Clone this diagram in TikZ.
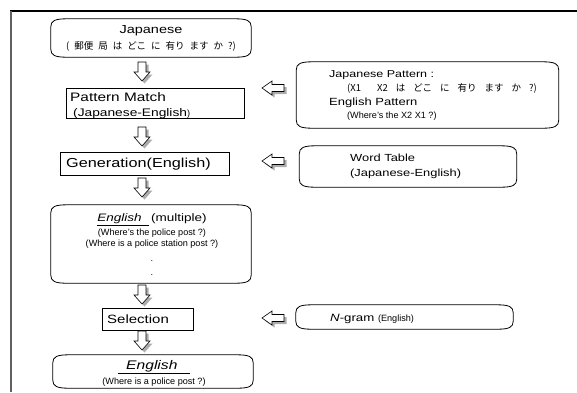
\documentclass[tikz,border=0pt]{standalone}
\usepackage{fontspec}
\setmainfont{Liberation Sans}
\newfontfamily\wideA{Liberation Sans}[FakeStretch=1.25]
\newfontfamily\jp{Noto Sans CJK JP}
\usetikzlibrary{calc}
\newcommand\fw[1]{\wideA\fontsize{#1}{#1}\selectfont}
\newcommand\fsm{\rmfamily\fontsize{9.1}{11}\selectfont}
\newcommand\fjp{\jp\fontsize{9.5}{11}\selectfont}
\newcommand\js{\hspace{5pt}}
\newcommand\jss{\hspace{8pt}}
\newcommand\cframe[1]{%
\draw[boxline]
 ($(#1.north west)+(0,8)$) .. controls ($(#1.north west)+(0,2)$) and ($(#1.north west)+(4,0)$) .. ($(#1.north west)+(16,0)$)
 -- ($(#1.north east)+(-16,0)$) .. controls ($(#1.north east)+(-4,0)$) and ($(#1.north east)+(0,2)$) .. ($(#1.north east)+(0,8)$)
 -- ($(#1.south east)+(0,-8)$) .. controls ($(#1.south east)+(0,-2)$) and ($(#1.south east)+(-4,0)$) .. ($(#1.south east)+(-16,0)$)
 -- ($(#1.south west)+(16,0)$) .. controls ($(#1.south west)+(4,0)$) and ($(#1.south west)+(0,-2)$) .. ($(#1.south west)+(0,-8)$) -- cycle;}
\tikzset{
 boxline/.style={line width=0.8pt, black},
 rbox/.style={draw=black, line width=0.8pt, inner sep=0pt},
 cbox/.style={inner sep=0pt},
 tl/.style={inner sep=0pt, anchor=base west},
 tc/.style={inner sep=0pt, anchor=base},
 downarr/.pic={
   \fill[gray!65] ([shift={(2.5,2.5)}]-4,-10) -- ++(8,0) -- ++(0,10) -- ++(4,0) -- ++(-8,9) -- ++(-8,-9) -- ++(4,0) -- cycle;
   \draw[line width=0.6pt, fill=white] (-4,-10) -- (4,-10) -- (4,0) -- (8,0) -- (0,9) -- (-8,0) -- (-4,0) -- cycle;
 },
 leftarr/.pic={
   \fill[gray!65] ([shift={(2.5,2.5)}]11,-3.5) -- ++(0,7) -- ++(-12,0) -- ++(0,3.5) -- ++(-10,-7) -- ++(10,-7) -- ++(0,3.5) -- cycle;
   \draw[line width=0.6pt, fill=white] (11,-3.5) -- (11,3.5) -- (-1,3.5) -- (-1,7) -- (-11,0) -- (-1,-7) -- (-1,-3.5) -- cycle;
 }
}
\begin{document}
\begin{tikzpicture}[x=1pt,y=-1pt]
\useasboundingbox (0,0) rectangle (577,392);
% frame
\draw[line width=1.2pt] (10,11) -- (577,11);
\draw[line width=1.4pt, gray!75!black] (11,11) -- (11,392);

% ---------- left column
\node[cbox, minimum width=200pt, minimum height=38pt] (j1) at (151,38) {};
\cframe{j1}
\node[tc, font={\fw{11.6}}] (j1a) at (151,33) {Japanese};
\node[tc, font=\fjp] (j1b) at (151,49.5) {(\js 郵便\js 局\js は\js どこ\js に\js 有り\js ます\js か\js ?)};

\node[rbox, minimum width=178pt, minimum height=30pt] (pm) at (155,103) {};
\node[tl, font={\fw{12.3}}] (pma) at (70,101.5) {Pattern Match};
\node[tl, font={\fw{11}}] (pmb) at (73,116) {(Japanese-English{\fsm )}};

\node[rbox, minimum width=169pt, minimum height=23pt] (gen) at (144.5,163.5) {};
\node[tl, font={\fw{13}}] (gena) at (66,167.5) {Generation(English)};

\node[cbox, minimum width=200pt, minimum height=78pt] (em) at (151,244) {};
\cframe{em}
\node[tc, font={\fw{10.8}}] (ema) at (152,221.5) {\underline{\textit{English}\ \ }\,(multiple)};
\node[tc, font=\fsm] (emb) at (152,235.5) {(Where's the police post ?)};
\node[tc, font=\fsm] (emc) at (152,246.5) {(Where is a police station post ?)};
\node[tc, font=\fsm] (emd) at (152,261) {.};
\node[tc, font=\fsm] (eme) at (152,275) {.};

\node[rbox, minimum width=91pt, minimum height=22pt] (sel) at (147.5,319) {};
\node[tl, font={\fw{12}}] (sela) at (107,323.5) {Selection};

\node[cbox, minimum width=200pt, minimum height=33pt] (fin) at (153,371.5) {};
\cframe{fin}
\node[tc, font={\fw{12.5}}] (fina) at (154,369.5) {\underline{\ \ \textit{English}\ \ \ }};
\node[tc, font=\fsm] (finb) at (154,384.5) {(Where is a police post ?)};

% ---------- right column
\node[cbox, minimum width=262pt, minimum height=66pt] (rp) at (427.5,95) {};
\cframe{rp}
\node[tl, font={\fw{10}}] (rpa) at (329,77.5) {Japanese Pattern :};
\node[tl, font=\fjp] (rpb) at (347,91) {(X1\jss\jss X2\jss は\jss どこ\jss に\jss 有り\jss ます\jss か\jss ?)};
\node[tl, font={\fw{10.4}}] (rpc) at (329,105.5) {English Pattern};
\node[tl, font=\fsm] (rpd) at (347,118.5) {(Where's the X2 X1 ?)};

\node[cbox, minimum width=217pt, minimum height=41pt] (wt) at (408,166.5) {};
\cframe{wt}
\node[tl, font={\fw{10.3}}] (wta) at (350,161.5) {Word Table};
\node[tl, font={\fw{10.3}}] (wtb) at (350,176.5) {(Japanese-English)};

\node[cbox, minimum width=217pt, minimum height=24pt] (ng) at (404.5,317) {};
\cframe{ng}
\node[tl, font={\fw{10.6}}] (nga) at (330,321.5) {\textit{N}-gram {\fsm (English)}};

% ---------- block arrows
\path (142,72) pic {downarr};
\path (142,137) pic {downarr};
\path (142,188) pic {downarr};
\path (142,295) pic {downarr};
\path (142,341) pic {downarr};
\path (273,88) pic {leftarr};
\path (273,161) pic {leftarr};
\path (273,318) pic {leftarr};
\end{tikzpicture}
\end{document}
